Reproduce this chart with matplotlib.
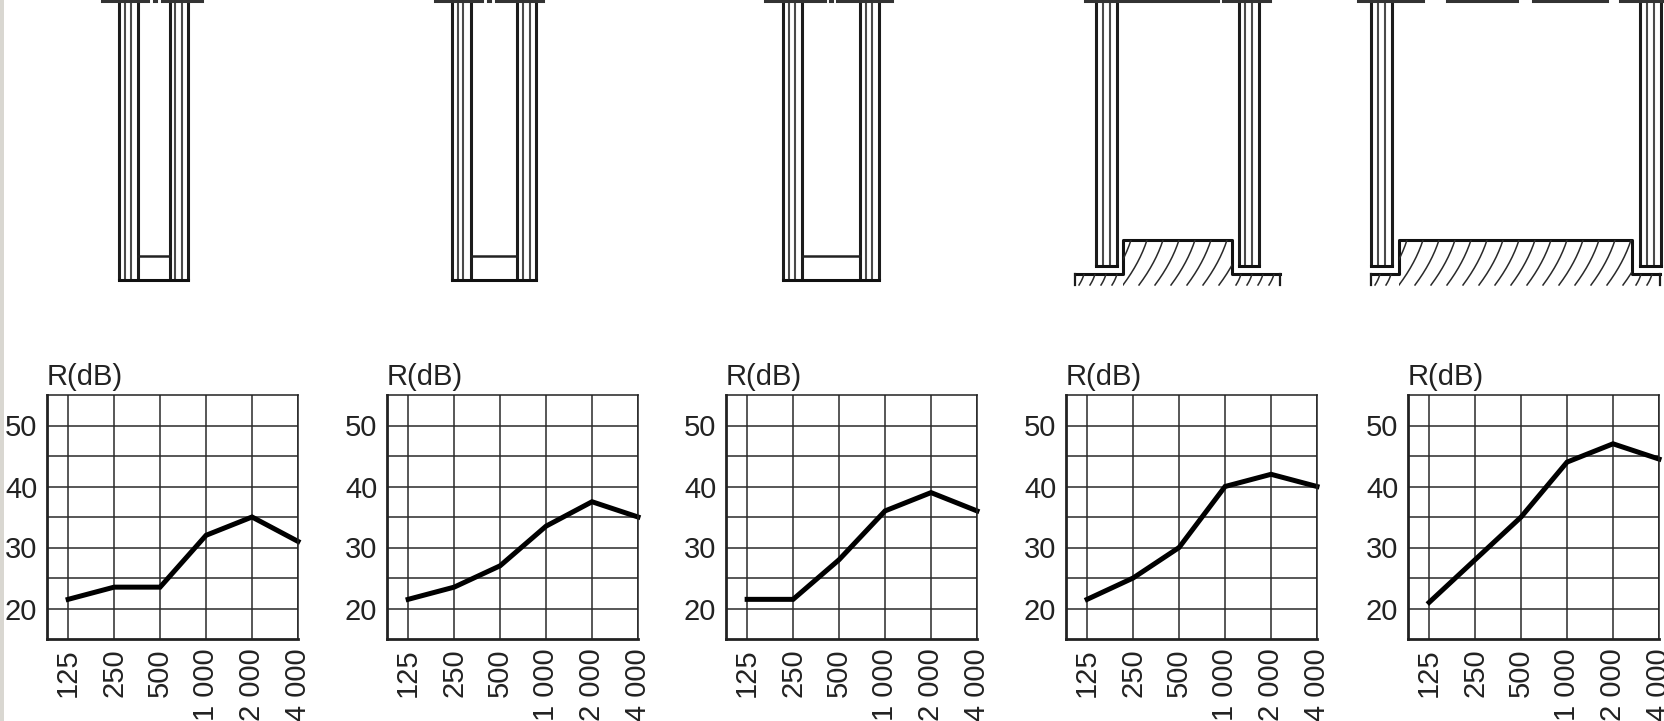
import matplotlib
matplotlib.use("Agg")
import matplotlib.pyplot as plt
from matplotlib.patches import Rectangle

W, H = 1665, 721
plt.rcParams['font.family'] = ['Liberation Sans', 'DejaVu Sans']

freq_labels = ["125", "250", "500", "1 000", "2 000", "4 000"]
db_ticks = [20, 30, 40, 50]
grid_db = [20, 25, 30, 35, 40, 45, 50]

r_1 = [21.5, 23.5, 23.5, 32, 35, 31]
r_2 = [21.5, 23.5, 27, 33.5, 37.5, 35]
r_3 = [21.5, 21.5, 28, 36, 39, 36]
r_4 = [21.5, 25, 30, 40, 42, 40]
r_5 = [21, 28, 35, 44, 47, 44.5]
curves = [r_1, r_2, r_3, r_4, r_5]

# axes left / right edges in pixels
ax_left = [47, 387, 726, 1066, 1408]
ax_right = [298, 638, 977, 1317, 1659]
ax_top, ax_bottom = 395, 639

# cross sections, x of the glass lines in pixels, then the pieces of the top rule
narrow_walls = [
    ([119, 125, 131, 138], [170, 175, 182, 188], [(102, 148), (154, 156), (162, 202)]),
    ([452, 458, 463, 471], [517, 523, 530, 536], [(435, 482), (488, 490), (496, 543)]),
    ([783, 789, 795, 802], [860, 866, 872, 879], [(765, 825), (830, 832), (837, 892)]),
]
plinth_walls = [
    ([1096, 1103, 1110, 1117], [1239, 1245, 1252, 1259], (1123, 1232), (1075, 1280),
     [(1085, 1150), (1153, 1213), (1216, 1218), (1223, 1270)]),
    ([1371, 1378, 1385, 1392], [1640, 1647, 1654, 1661], (1399, 1632), (1371, 1660),
     [(1358, 1423), (1447, 1517), (1533, 1607), (1620, 1665)]),
]

fig = plt.figure(figsize=(W / 100, H / 100), dpi=100, facecolor="white")

# overlay in pixel coordinates for the drawings
bg = fig.add_axes([0, 0, 1, 1])
bg.set_xlim(0, W)
bg.set_ylim(H, 0)
bg.axis("off")
bg.axvspan(0, 4, color="#d9d7d1", lw=0)


def wall(x_list, y_end):
    for i, x in enumerate(x_list):
        outer = i in (0, len(x_list) - 1)
        bg.plot([x, x], [0, y_end], color="#1c1c1c" if outer else "#4a4a4a",
                lw=2.2 if outer else 1.5, solid_capstyle="butt")


def top_rule(pieces):
    for x0, x1 in pieces:
        bg.plot([x0, x1], [0.5, 0.5], color="#333333", lw=2.2)


def hatch(x, rise, run, clip):
    # slightly bent stroke, steeper towards the top
    steps = [i / 8 for i in range(9)]
    xs = [x + run * (1.4 * t - 0.4 * t * t) for t in steps]
    ys = [285 - rise * t for t in steps]
    line, = bg.plot(xs, ys, color="#2a2a2a", lw=1.1)
    line.set_clip_path(Rectangle(clip[0], clip[1], clip[2], transform=bg.transData))


for left, right, rule in narrow_walls:
    wall(left, 280)
    wall(right, 280)
    bg.plot([left[0], right[-1]], [280, 280], color="#111111", lw=2.2, solid_capstyle="projecting")
    bg.plot([left[-1], right[0]], [256, 256], color="#222222", lw=1.8)
    top_rule(rule)

for left, right, plinth, ground, rule in plinth_walls:
    wall(left, 266)
    wall(right, 266)
    bg.plot([left[0], left[-1]], [266, 266], color="#111111", lw=2.2)
    bg.plot([right[0], right[-1]], [266, 266], color="#111111", lw=2.2)
    bg.plot([ground[0], plinth[0], plinth[0], plinth[1], plinth[1], ground[1]],
            [274, 274, 240, 240, 274, 274], color="#111111", lw=2.2)
    top_rule(rule)
    # hatching under the plinth, clipped to its outline
    x = plinth[0] - 16
    while x < plinth[1]:
        hatch(x, 45, 24, ((plinth[0], 240), plinth[1] - plinth[0], 46))
        x += 16
    # short ticks under the ground line
    for side in ((ground[0], plinth[0]), (plinth[1], ground[1])):
        x = side[0] + 4
        while x < side[1] - 4:
            hatch(x, 11, 5, ((side[0], 274), side[1] - side[0], 12))
            x += 11
    bg.plot([ground[0], ground[0]], [274, 285], color="#1c1c1c", lw=1.6)
    bg.plot([ground[1], ground[1]], [274, 285], color="#1c1c1c", lw=1.6)

for left, right, values in zip(ax_left, ax_right, curves):
    ax = fig.add_axes([left / W, 1 - ax_bottom / H, (right - left) / W, (ax_bottom - ax_top) / H])
    ax.patch.set_alpha(0)
    ax.set_xlim(-0.46, 5)
    ax.set_ylim(15, 55)
    ax.set_xticks(range(6))
    ax.set_xticklabels(freq_labels, rotation=90, fontsize=21, color="#222222", va="top")
    ax.set_yticks(grid_db)
    ax.set_yticklabels([str(v) if v in db_ticks else "" for v in grid_db], fontsize=21, color="#222222")
    ax.tick_params(length=0, pad=7)
    ax.grid(True, color="#2a2a2a", lw=1.1)
    ax.set_axisbelow(True)
    for name, sp in ax.spines.items():
        sp.set_color("#222222")
        sp.set_linewidth(2 if name in ("left", "bottom") else 1.1)
    ax.plot(range(6), values, color="black", lw=3.6, solid_joinstyle="miter", clip_on=False)
    ax.text(-0.46, 55.7, "R(dB)", fontsize=21, color="#222222", va="bottom", ha="left")

fig.savefig("out.png", dpi=100)
